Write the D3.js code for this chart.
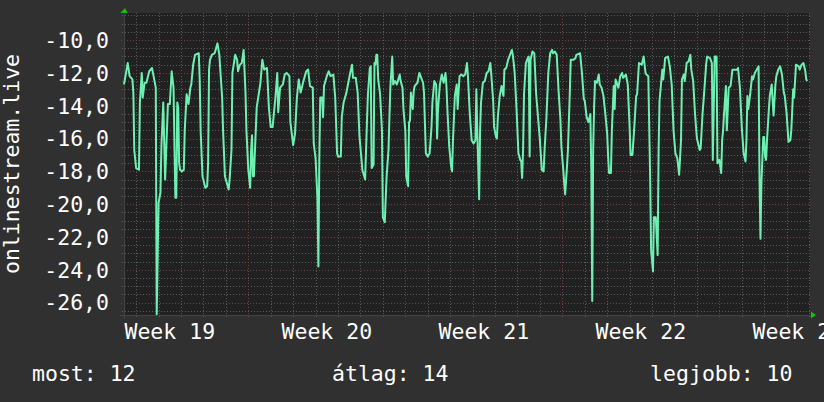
<!DOCTYPE html>
<html>
<head>
<meta charset="utf-8">
<script src="https://cdn.jsdelivr.net/npm/d3@7"></script>
<style>
  html, body { margin: 0; padding: 0; background: #303030; }
  svg { display: block; }
  text { font-family: "DejaVu Sans Mono", monospace; fill: #ffffff; }
</style>
</head>
<body>
<div id="chart"></div>
<script>
// hours since plot start at the line's corners
var hours = [0,4,6,9,10,11,13,16,17,19,
  20,22,24,27,30,31,34,35,37,39,
  40,42,44,47,49,51,53,54,55,56,
  57,58,59,60,62,64,65,67,69,71,
  72,74,76,80,81,82,84,87,89,90,
  91,92,94,97,100,102,105,106,108,112,
  113,115,116,119,121,122,124,126,128,130,
  131,133,135,136,137,138,139,142,146,148,
  150,153,155,157,159,161,162,164,165,167,
  170,172,174,177,178,181,183,185,187,189,
  192,195,197,199,202,203,205,207,208,209,
  210,212,213,214,217,219,221,224,226,228,
  229,232,233,235,238,240,242,244,245,248,
  250,252,254,255,258,260,261,263,264,265,
  267,268,269,270,271,272,274,276,277,279,
  281,283,284,285,287,288,290,292,294,295,
  296,298,299,301,302,304,305,306,307,309,
  310,311,314,316,318,320,321,322,323,325,
  327,329,330,332,334,335,336,338,340,342,
  344,345,346,348,350,351,352,354,356,357,
  359,361,363,365,367,368,370,372,374,376,
  377,378,380,381,382,384,386,388,390,392,
  393,395,396,398,399,400,402,404,406,407,
  409,411,413,415,416,417,418,420,422,424,
  425,426,427,428,430,432,433,434,435,437,
  439,441,443,445,447,449,450,452,454,456,
  458,459,461,463,465,467,468,470,471,472,
  474,475,477,478,481,483,484,488,490,492,
  493,495,497,499,500,501,502,503,504,506,
  508,509,511,513,515,517,518,519,521,522,
  524,525,526,529,531,533,534,537,539,541,
  542,544,546,548,549,551,554,556,558,559,
  561,563,564,566,567,569,571,572,573,575,
  576,577,579,582,584,586,588,590,592,594,
  596,597,599,600,602,604,606,607,609,611,
  613,616,617,619,621,623,624,627,629,630,
  632,634,635,637,639,640,641,642,644,645,
  646,647,649,651,654,656,657,659,661,663,
  665,666,667,668,670,672,673,675,677,679,
  680,681,682,684,685,686,687,688,690,691,
  693,695,697,698,700,702,704,706,707,709,
  711,713,714,716,717,719,722,723,725,727,
  729,730,731];

var values = [-12.7,-11.4,-12.2,-12.4,-13.2,-16.7,-17.8,-17.9,-13.8,-12.0,
  -13.5,-12.6,-12.6,-11.9,-11.7,-12.0,-12.9,-26.7,-19.9,-19.3,
  -16.5,-13.8,-18.5,-13.9,-13.9,-11.9,-12.9,-16.5,-19.6,-19.6,
  -13.8,-14.1,-17.5,-17.9,-18.0,-17.9,-15.5,-13.3,-13.9,-12.9,
  -12.7,-11.5,-10.9,-10.8,-12.4,-15.5,-18.3,-19.0,-18.9,-17.5,
  -11.8,-11.2,-10.9,-10.8,-10.2,-10.9,-13.5,-15.5,-18.3,-19.1,
  -18.5,-16.7,-12.0,-10.9,-11.2,-11.9,-11.5,-11.4,-10.6,-13.2,
  -15.5,-17.9,-19.0,-16.7,-15.8,-18.3,-18.3,-14.1,-12.6,-11.2,
  -11.8,-11.7,-14.1,-15.3,-15.3,-14.1,-13.5,-12.0,-14.4,-12.9,
  -12.7,-12.1,-12.0,-12.2,-15.0,-16.4,-15.7,-13.5,-12.4,-13.2,
  -12.5,-11.9,-11.8,-12.8,-12.9,-16.3,-17.2,-19.7,-23.8,-17.1,
  -13.5,-13.5,-14.7,-12.8,-12.2,-11.9,-12.2,-12.1,-13.5,-16.9,
  -17.1,-17.1,-14.7,-13.8,-13.2,-12.6,-12.0,-11.5,-12.3,-12.3,
  -13.2,-15.9,-17.2,-17.9,-18.5,-14.9,-13.3,-11.7,-11.6,-17.8,
  -17.6,-11.4,-11.5,-10.9,-10.9,-12.4,-13.3,-15.5,-20.8,-21.1,
  -18.3,-16.7,-14.7,-12.9,-11.0,-12.7,-12.5,-12.7,-12.3,-12.1,
  -12.5,-12.9,-14.2,-15.5,-18.3,-18.9,-15.0,-14.9,-13.2,-14.2,
  -13.1,-12.8,-12.6,-12.0,-12.3,-12.6,-13.2,-15.1,-16.9,-17.1,
  -16.9,-15.3,-13.8,-12.5,-12.7,-16.0,-14.2,-12.7,-12.1,-12.6,
  -12.0,-12.8,-14.2,-16.5,-17.7,-18.0,-16.1,-13.4,-12.7,-14.2,
  -12.2,-12.1,-12.2,-12.1,-11.4,-12.2,-14.5,-16.1,-16.3,-16.1,
  -13.0,-15.5,-19.7,-15.5,-13.8,-12.6,-12.5,-12.0,-11.9,-11.4,
  -12.1,-13.7,-15.3,-15.9,-16.0,-14.7,-13.4,-12.8,-13.4,-11.8,
  -11.7,-11.2,-10.9,-10.6,-10.9,-11.4,-12.0,-14.2,-16.9,-17.3,
  -17.4,-18.4,-16.7,-13.3,-11.4,-11.1,-11.0,-17.1,-11.2,-10.7,
  -10.8,-13.3,-14.7,-16.1,-17.9,-18.0,-16.7,-14.7,-12.0,-10.8,
  -10.6,-10.8,-10.7,-10.9,-13.1,-14.9,-16.5,-17.9,-18.7,-19.4,
  -17.7,-16.7,-13.2,-11.2,-11.2,-11.1,-10.9,-10.8,-12.0,-13.6,
  -13.7,-14.7,-15.0,-14.5,-17.9,-25.9,-16.7,-14.1,-12.5,-12.6,
  -12.1,-12.7,-12.9,-13.4,-14.5,-15.7,-17.1,-18.1,-18.1,-15.5,
  -12.8,-14.2,-12.4,-12.9,-12.2,-12.0,-12.3,-12.1,-12.7,-15.3,
  -17.0,-17.0,-15.3,-13.4,-13.3,-11.4,-11.5,-11.0,-12.0,-12.1,
  -12.2,-18.5,-22.8,-24.1,-20.8,-20.8,-23.1,-16.7,-13.7,-12.4,
  -11.8,-12.4,-11.1,-11.0,-11.6,-12.7,-15.5,-16.9,-17.2,-18.2,
  -16.1,-12.4,-12.1,-12.5,-11.4,-11.3,-10.9,-11.8,-12.5,-14.5,
  -16.0,-16.7,-16.6,-14.5,-13.0,-11.4,-11.0,-11.1,-11.4,-17.3,
  -11.0,-11.0,-17.5,-17.3,-18.1,-16.1,-15.5,-14.5,-12.8,-15.5,
  -14.2,-12.9,-12.8,-11.8,-11.8,-11.8,-11.7,-12.9,-15.3,-16.9,
  -17.4,-16.1,-13.4,-14.2,-13.3,-12.2,-12.4,-12.0,-11.8,-11.6,
  -18.5,-22.1,-18.7,-15.9,-15.9,-17.1,-17.3,-16.1,-14.2,-13.4,
  -12.7,-14.6,-12.7,-12.2,-11.8,-11.6,-12.1,-13.2,-13.4,-14.5,
  -16.2,-16.1,-15.5,-13.0,-13.5,-11.5,-11.6,-11.8,-11.5,-11.4,
  -11.9,-12.4,-12.5];

var yTicks = [-10, -12, -14, -16, -18, -20, -22, -24, -26];
var weekLabels = ["Week 19", "Week 20", "Week 21", "Week 22", "Week 23"];
var legendLabels = ["most", "átlag", "legjobb"];
var legendValues = [12, 14, 10];
var title = "onlinestream.live";

var width = 824,
    height = 402,
    plot = {left: 124, right: 810, top: 13, bottom: 315};

var start = new Date(2021, 4, 11, 11, 0),
    end = d3.timeHour.offset(start, 734);

var x = d3.scaleTime()
  .domain([start, end])
  .range([plot.left, plot.right]);

var y = d3.scaleLinear()
  .domain([-26.75, -8.35])
  .range([plot.bottom, plot.top]);

var data = hours.map(function(h, i) {
  return {date: d3.timeHour.offset(start, h), value: values[i]};
});

var crisp = function(v) { return Math.round(v) + 0.5; };

var svg = d3.select("#chart").append("svg")
  .attr("width", width)
  .attr("height", height);

svg.append("rect")
  .attr("width", width)
  .attr("height", height)
  .attr("fill", "#303030");

svg.append("rect")
  .attr("x", plot.left)
  .attr("y", plot.top)
  .attr("width", plot.right - plot.left)
  .attr("height", plot.bottom - plot.top)
  .attr("fill", "#212121");

// grid: minor every half unit / every day, major every 2 units / every week
var minorY = d3.range(-26.5, -8.4, 0.5).filter(function(v) { return v % 2 !== 0; });
var days = d3.timeDay.range(start, end).filter(function(d) { return d.getDay() !== 1; });
var weeks = d3.timeMonday.range(start, end);

var grid = svg.append("g");

grid.selectAll(".hminor")
  .data(minorY)
  .enter().append("line")
  .attr("x1", plot.left - 2).attr("x2", plot.right)
  .attr("y1", function(d) { return crisp(y(d)); })
  .attr("y2", function(d) { return crisp(y(d)); })
  .style("stroke", "#5a5a5a")
  .style("stroke-dasharray", "1,2");

grid.selectAll(".vminor")
  .data(days)
  .enter().append("line")
  .attr("x1", function(d) { return crisp(x(d)); })
  .attr("x2", function(d) { return crisp(x(d)); })
  .attr("y1", plot.top).attr("y2", plot.bottom + 3)
  .style("stroke", "#5a5a5a")
  .style("stroke-dasharray", "1,2");

grid.selectAll(".hmajor")
  .data(yTicks)
  .enter().append("line")
  .attr("x1", plot.left - 3).attr("x2", plot.right)
  .attr("y1", function(d) { return crisp(y(d)); })
  .attr("y2", function(d) { return crisp(y(d)); })
  .style("stroke", "#7a3c3c")
  .style("stroke-dasharray", "1,2");

grid.selectAll(".vmajor")
  .data(weeks)
  .enter().append("line")
  .attr("x1", function(d) { return crisp(x(d)); })
  .attr("x2", function(d) { return crisp(x(d)); })
  .attr("y1", plot.top).attr("y2", plot.bottom + 4)
  .style("stroke", "#7a3c3c")
  .style("stroke-dasharray", "1,2");

// axes
svg.append("line")
  .attr("x1", plot.left - 4).attr("x2", plot.right + 2)
  .attr("y1", plot.bottom + 0.5).attr("y2", plot.bottom + 0.5)
  .style("stroke", "#444444");

svg.append("line")
  .attr("x1", plot.left + 0.5).attr("x2", plot.left + 0.5)
  .attr("y1", plot.top - 2).attr("y2", plot.bottom + 4)
  .style("stroke", "#444444");

svg.append("path")
  .attr("d", "M" + (plot.left - 3.5) + "," + plot.top + "L" + (plot.left + 3.5) + "," + plot.top + "L" + (plot.left + 1) + "," + (plot.top - 5) + "Z")
  .attr("fill", "#00cc00");

svg.append("path")
  .attr("d", "M" + (plot.right + 1) + "," + (plot.bottom - 3.5) + "L" + (plot.right + 1) + "," + (plot.bottom + 3.5) + "L" + (plot.right + 6) + "," + plot.bottom + "Z")
  .attr("fill", "#00cc00");

// the series
var line = d3.line()
  .x(function(d) { return x(d.date); })
  .y(function(d) { return y(d.value); });

svg.append("path")
  .datum(data)
  .attr("d", line)
  .style("fill", "none")
  .style("stroke", "#6ef0b2")
  .style("stroke-width", 2)
  .style("stroke-linejoin", "round");

// labels
svg.selectAll(".ylab")
  .data(yTicks)
  .enter().append("text")
  .attr("x", 109)
  .attr("y", function(d) { return y(d) + 7.8; })
  .attr("text-anchor", "end")
  .style("font-size", "21.5px")
  .text(function(d) { return d3.format(".1f")(d).replace("−", "-").replace(".", ","); });

var weekStarts = d3.timeMonday.range(d3.timeMonday.floor(start), end);

svg.selectAll(".xlab")
  .data(weekStarts)
  .enter().append("text")
  .attr("x", function(d) { return x(d3.timeHour.offset(d, 84)); })
  .attr("y", 338.5)
  .attr("text-anchor", "middle")
  .style("font-size", "21.5px")
  .text(function(d, i) { return weekLabels[i]; });

svg.append("text")
  .attr("transform", "translate(18.5," + ((plot.top + plot.bottom) / 2) + ") rotate(-90)")
  .attr("text-anchor", "middle")
  .style("font-size", "21.5px")
  .text(title);

var legendX = [32, 332, 792.5],
    legendAnchor = ["start", "start", "end"];

svg.selectAll(".legend")
  .data(legendLabels)
  .enter().append("text")
  .attr("x", function(d, i) { return legendX[i]; })
  .attr("y", 381)
  .attr("text-anchor", function(d, i) { return legendAnchor[i]; })
  .style("font-size", "21.5px")
  .text(function(d, i) { return d + ": " + legendValues[i]; });
</script>
</body>
</html>
